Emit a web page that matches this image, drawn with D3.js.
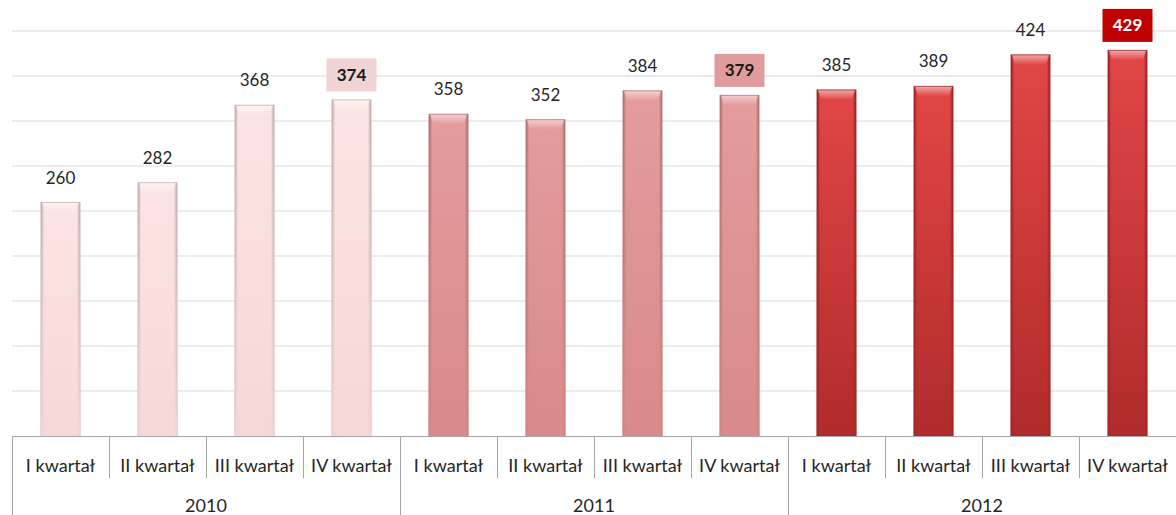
<!DOCTYPE html>
<html>
<head>
<meta charset="utf-8">
<script src="https://cdn.jsdelivr.net/npm/d3@7"></script>
<style>
  body { margin: 0; background: #fff; }
  svg { display: block; font-family: Lato, "Open Sans", sans-serif; }
</style>
</head>
<body>
<svg width="1176" height="515"></svg>
<script>
// Data
const years = ['2010', '2011', '2012'];
const quarters = ['I kwartał', 'II kwartał', 'III kwartał', 'IV kwartał'];
const values2010 = [260, 282, 368, 374];
const values2011 = [358, 352, 384, 379];
const values2012 = [385, 389, 424, 429];
const yTicks = [50, 100, 150, 200, 250, 300, 350, 400, 450];

const seriesValues = [values2010, values2011, values2012];

// colours per year: face, edge, bottom
const palette = [
  { face: '#fde4e4', edge: '#b9a0a0', bottom: '#f6d6d6', box: '#f0d3d3', boxText: '#1a1a1a' },
  { face: '#e49c9c', edge: '#a46666', bottom: '#d88888', box: '#e09c9c', boxText: '#1a1a1a' },
  { face: '#e24646', edge: '#8a1a1a', bottom: '#ab2828', box: '#c00000', boxText: '#ffffff' }
];

// flatten into one row per bar
const rows = [];
years.forEach((yr, yi) => {
  quarters.forEach((q, qi) => {
    rows.push({ idx: yi * 4 + qi, year: yr, yi, quarter: q, qi, value: seriesValues[yi][qi] });
  });
});

const svg = d3.select('svg');
const left = 12, right = 1176, base = 436;

const x = d3.scaleBand()
  .domain(rows.map(d => d.idx))
  .range([left, right])
  .padding(0);

const xYear = d3.scaleBand()
  .domain(years)
  .range([left, right])
  .padding(0);

const y = d3.scaleLinear()
  .domain([0, 450])
  .range([base, 31]);

const barW = x.bandwidth() * 0.41;

// gradients
const defs = svg.append('defs');
palette.forEach((p, i) => {
  const h = defs.append('linearGradient')
    .attr('id', 'hg' + i)
    .attr('x1', 0).attr('x2', 1).attr('y1', 0).attr('y2', 0);
  h.append('stop').attr('offset', '0%').attr('stop-color', p.edge);
  h.append('stop').attr('offset', '9%').attr('stop-color', p.face);
  h.append('stop').attr('offset', '91%').attr('stop-color', p.face);
  h.append('stop').attr('offset', '100%').attr('stop-color', p.edge);

  const v = defs.append('linearGradient')
    .attr('id', 'vg' + i)
    .attr('x1', 0).attr('x2', 0).attr('y1', 0).attr('y2', 1);
  v.append('stop').attr('offset', '0%').attr('stop-color', p.bottom).attr('stop-opacity', 0);
  v.append('stop').attr('offset', '100%').attr('stop-color', p.bottom).attr('stop-opacity', 0.9);

  const t = defs.append('linearGradient')
    .attr('id', 'tg' + i)
    .attr('x1', 0).attr('x2', 0).attr('y1', 0).attr('y2', 1);
  t.append('stop').attr('offset', '0%').attr('stop-color', '#fff').attr('stop-opacity', 0.55);
  t.append('stop').attr('offset', '100%').attr('stop-color', '#fff').attr('stop-opacity', 0);
});

// gridlines
svg.append('g')
  .selectAll('line')
  .data(yTicks)
  .enter().append('line')
  .attr('x1', left).attr('x2', right)
  .attr('y1', d => y(d)).attr('y2', d => y(d))
  .attr('stroke', '#d9d9d9')
  .attr('stroke-width', 1);

// bars
const bar = svg.append('g')
  .selectAll('g')
  .data(rows)
  .enter().append('g')
  .attr('transform', d => `translate(${x(d.idx) + (x.bandwidth() - barW) / 2},0)`);

bar.append('rect')
  .attr('x', 0)
  .attr('y', d => y(d.value))
  .attr('width', barW)
  .attr('height', d => base - y(d.value))
  .attr('fill', d => `url(#hg${d.yi})`);

bar.append('rect')
  .attr('x', 0)
  .attr('y', d => y(d.value))
  .attr('width', barW)
  .attr('height', d => base - y(d.value))
  .attr('fill', d => `url(#vg${d.yi})`);

// bevelled top highlight
bar.append('path')
  .attr('d', d => {
    const t = y(d.value);
    return `M1,${t} L${barW - 1},${t} L${barW - 4},${t + 9} Q${barW / 2},${t + 12} 4,${t + 9} Z`;
  })
  .attr('fill', d => `url(#tg${d.yi})`);

bar.append('line')
  .attr('x1', 1).attr('x2', barW - 1)
  .attr('y1', d => y(d.value) + 0.5).attr('y2', d => y(d.value) + 0.5)
  .attr('stroke', d => palette[d.yi].edge)
  .attr('stroke-opacity', 0.6);

// value labels
const labels = svg.append('g')
  .selectAll('g')
  .data(rows)
  .enter().append('g')
  .attr('transform', d => `translate(${x(d.idx) + x.bandwidth() / 2},${y(d.value)})`);

labels.filter(d => d.qi === 3).append('rect')
  .attr('x', -25).attr('y', -41)
  .attr('width', 50).attr('height', 33)
  .attr('fill', d => palette[d.yi].box);

labels.append('text')
  .attr('text-anchor', 'middle')
  .attr('y', -18.5)
  .attr('font-size', 17)
  .attr('font-weight', d => d.qi === 3 ? 'bold' : 'normal')
  .attr('fill', d => d.qi === 3 ? palette[d.yi].boxText : '#262626')
  .text(d => d.value);

// category axis
const axis = svg.append('g');
axis.append('line')
  .attr('x1', left).attr('x2', right)
  .attr('y1', base + 0.5).attr('y2', base + 0.5)
  .attr('stroke', '#a6a6a6');

axis.selectAll('.qdiv')
  .data(rows.filter(d => d.qi > 0))
  .enter().append('line')
  .attr('class', 'qdiv')
  .attr('x1', d => Math.round(x(d.idx)) + 0.5).attr('x2', d => Math.round(x(d.idx)) + 0.5)
  .attr('y1', base).attr('y2', 478)
  .attr('stroke', '#a6a6a6');

axis.selectAll('.ydiv')
  .data(years)
  .enter().append('line')
  .attr('class', 'ydiv')
  .attr('x1', d => Math.round(xYear(d)) + 0.5).attr('x2', d => Math.round(xYear(d)) + 0.5)
  .attr('y1', base).attr('y2', 515)
  .attr('stroke', '#a6a6a6');

axis.selectAll('.qlab')
  .data(rows)
  .enter().append('text')
  .attr('class', 'qlab')
  .attr('x', d => x(d.idx) + x.bandwidth() / 2)
  .attr('y', 471.5)
  .attr('text-anchor', 'middle')
  .attr('font-size', 18)
  .attr('fill', '#262626')
  .text(d => d.quarter);

axis.selectAll('.ylab')
  .data(years)
  .enter().append('text')
  .attr('class', 'ylab')
  .attr('x', d => xYear(d) + xYear.bandwidth() / 2)
  .attr('y', 512)
  .attr('text-anchor', 'middle')
  .attr('font-size', 18)
  .attr('fill', '#262626')
  .text(d => d);
</script>
</body>
</html>
